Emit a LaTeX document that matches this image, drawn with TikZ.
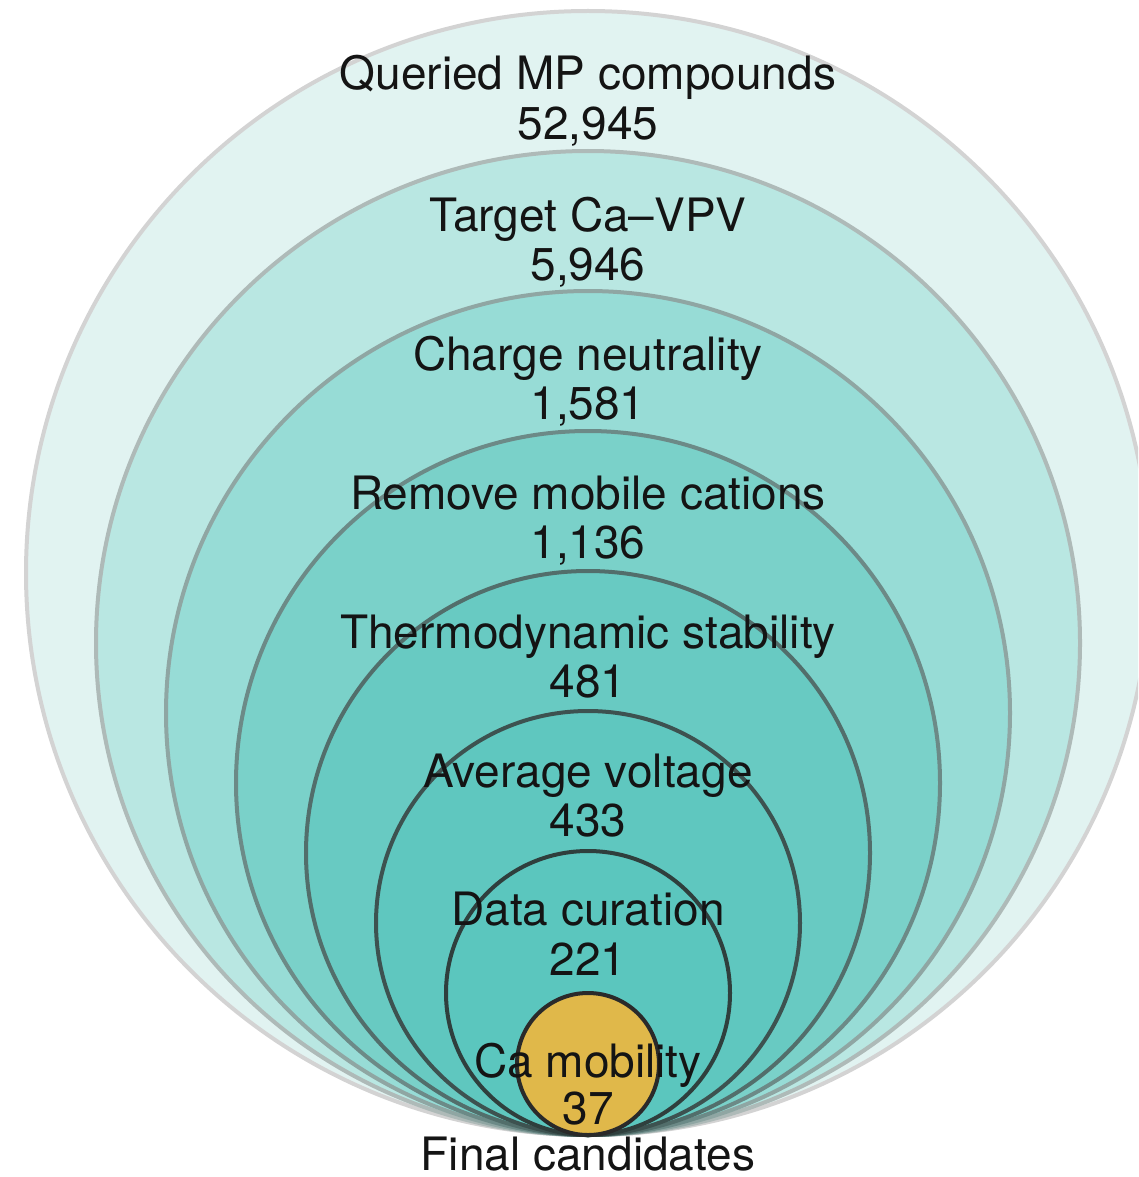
\documentclass[tikz,border=0pt]{standalone}
\usepackage{fontspec}
\setmainfont{TeX Gyre Heros}
\definecolor{f1}{HTML}{E1F3F1}
\definecolor{f2}{HTML}{B9E7E2}
\definecolor{f3}{HTML}{97DCD6}
\definecolor{f4}{HTML}{7AD1C9}
\definecolor{f5}{HTML}{68CAC2}
\definecolor{f6}{HTML}{5FC7BF}
\definecolor{f7}{HTML}{5BC6BE}
\definecolor{f8}{HTML}{E0B84A}
\definecolor{s1}{HTML}{D3D3D3}
\definecolor{s2}{HTML}{AEBAB8}
\definecolor{s3}{HTML}{8FA6A3}
\definecolor{s4}{HTML}{6C8A87}
\definecolor{s5}{HTML}{526E6B}
\definecolor{s6}{HTML}{3D5250}
\definecolor{s7}{HTML}{2F3F3D}
\definecolor{s8}{HTML}{2A2A2A}
\begin{document}
\begin{tikzpicture}[x=1pt,y=1pt,
  ring/.style={line width=4pt},
  lbl/.style={anchor=base,inner sep=0pt,font=\fontsize{46}{50}\selectfont,text=black!92}]
\useasboundingbox (0,0) rectangle (1138,-1177);
\clip (0,0) rectangle (1138,-1177);
\fill[white] (0,0) rectangle (1138,-1177);
\draw[ring,fill=f1,draw=s1] (588,-573) circle[radius=562pt];
\draw[ring,fill=f2,draw=s2] (588,-643) circle[radius=492pt];
\draw[ring,fill=f3,draw=s3] (588,-713) circle[radius=422pt];
\draw[ring,fill=f4,draw=s4] (588,-783) circle[radius=352pt];
\draw[ring,fill=f5,draw=s5] (588,-853) circle[radius=282pt];
\draw[ring,fill=f6,draw=s6] (588,-923) circle[radius=212pt];
\draw[ring,fill=f7,draw=s7] (588,-993) circle[radius=142pt];
\draw[ring,fill=f8,draw=s8] (588,-1064) circle[radius=71pt];
\node[lbl] (t1) at (588,-90) {Queried MP compounds};
\node[lbl] (n1) at (588,-140) {52,945};
\node[lbl] (t2) at (588,-231) {Target Ca–VPV};
\node[lbl] (n2) at (588,-280) {5,946};
\node[lbl] (t3) at (588,-370) {Charge neutrality};
\node[lbl] (n3) at (588,-419) {1,581};
\node[lbl] (t4) at (588,-509) {Remove mobile cations};
\node[lbl] (n4) at (588,-558) {1,136};
\node[lbl] (t5) at (588,-648) {Thermodynamic stability};
\node[lbl] (n5) at (588,-697) {481};
\node[lbl] (t6) at (588,-787) {Average voltage};
\node[lbl] (n6) at (588,-836) {433};
\node[lbl] (t7) at (588,-925) {Data curation};
\node[lbl] (n7) at (588,-975) {221};
\node[lbl] (t8) at (588,-1077) {Ca mobility};
\node[lbl] (n8) at (588,-1124) {37};
\node[lbl] (fc) at (588,-1170) {Final candidates};
\end{tikzpicture}
\end{document}
